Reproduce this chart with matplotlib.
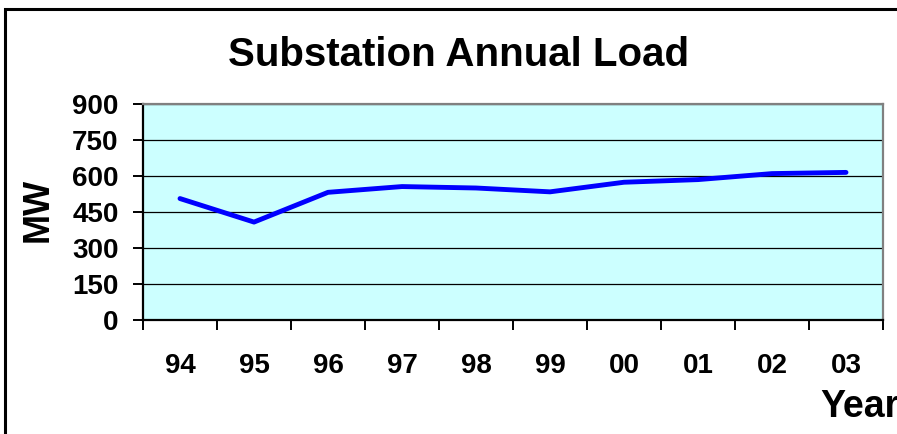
import matplotlib.pyplot as plt
from matplotlib.patches import Rectangle
import numpy as np

years = ["94", "95", "96", "97", "98", "99", "00", "01", "02", "03"]
load_mw = [506, 408, 532, 556, 550, 534, 574, 585, 610, 615]
y_ticks = [0, 150, 300, 450, 600, 750, 900]

plt.rcParams['font.family'] = ['Liberation Sans', 'DejaVu Sans']

fig = plt.figure(figsize=(8.97, 4.34), dpi=100)
ax = fig.add_axes([143 / 897, 1 - 320 / 434, 740 / 897, 216 / 434])
ax.set_facecolor('#ccffff')

x = np.arange(len(years))
ax.plot(x, load_mw, color='#0000ff', lw=3.5, solid_capstyle='round', zorder=3)

ax.set_xlim(-0.5, len(years) - 0.5)
ax.set_ylim(0, 900)
ax.set_yticks(y_ticks)
ax.yaxis.grid(True, color='black', lw=0.9)
ax.set_axisbelow(True)

ax.set_xticks(x)
ax.set_xticklabels(years, fontsize=20, fontweight='bold')
ax.set_xticks(np.arange(-0.5, len(years)), minor=True)
ax.tick_params(axis='x', which='major', length=0, pad=24)
ax.tick_params(axis='x', which='minor', length=7.5, width=1.4, direction='out')
ax.tick_params(axis='y', length=7.5, width=1.4, direction='out', labelsize=20, pad=10)
for lbl in ax.get_yticklabels():
    lbl.set_fontweight('bold')

for side in ['top', 'right']:
    ax.spines[side].set_color('#808080')
    ax.spines[side].set_linewidth(1.6)
for side in ['left', 'bottom']:
    ax.spines[side].set_color('black')
    ax.spines[side].set_linewidth(1.6)

fig.text(459 / 897, 1 - 55 / 434, "Substation Annual Load", ha='center', va='center',
         fontsize=29, fontweight='bold')
fig.text(38 / 897, 1 - 210 / 434, "MW", rotation=90, ha='center', va='center',
         fontsize=26, fontweight='bold')
fig.text(820 / 897, 1 - 417 / 434, "Year", ha='left', va='baseline',
         fontsize=27, fontweight='bold')

# outer chart frame (only left and top edges visible)
fig.patches.append(Rectangle((5 / 897, -0.1), 1.2, 1 - 9 / 434 + 0.1,
                             transform=fig.transFigure, fill=False,
                             edgecolor='black', lw=2.2))

fig.savefig("out.png", dpi=100)
